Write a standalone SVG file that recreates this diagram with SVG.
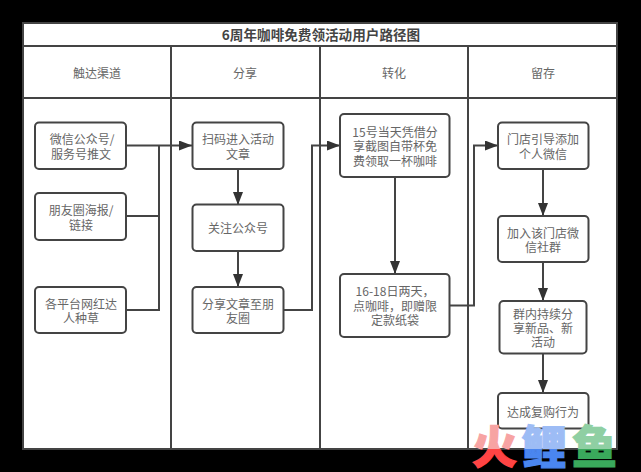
<svg xmlns="http://www.w3.org/2000/svg" width="641" height="472" viewBox="0 0 641 472">
<style>
text{font-family:"Noto Sans CJK SC","Liberation Sans",sans-serif;font-size:12px;fill:#666;text-anchor:middle}
.lane{fill:none;stroke:#444;stroke-width:2}
.box rect{fill:#fff;stroke:#444;stroke-width:2}
.c{fill:none;stroke:#444;stroke-width:2}
.t{font-size:13.600px;font-weight:700;fill:#444}
.w{font-size:45px;font-weight:900;stroke-width:1.200px}
</style>
<defs>
<marker id="a" markerUnits="userSpaceOnUse" markerWidth="14" markerHeight="12" refX="13" refY="5" orient="auto"><path d="M0 0L13 5L0 10Z" fill="#333"/></marker>
<linearGradient id="wr" gradientUnits="userSpaceOnUse" x1="0" y1="420" x2="0" y2="475"><stop offset=".527" stop-color="#f7a3a3"/><stop offset=".527" stop-color="#f44"/></linearGradient>
<linearGradient id="wb" gradientUnits="userSpaceOnUse" x1="0" y1="420" x2="0" y2="475"><stop offset=".527" stop-color="#9dbcf5"/><stop offset=".527" stop-color="#4a86f0"/></linearGradient>
<linearGradient id="wg" gradientUnits="userSpaceOnUse" x1="0" y1="420" x2="0" y2="475"><stop offset=".527" stop-color="#8fcfa3"/><stop offset=".527" stop-color="#3aa95c"/></linearGradient>
</defs>
<rect width="641" height="472" fill="#000"/>
<g id="swimlane">
<rect x="23" y="23" width="594" height="426" fill="#fff" stroke="#444" stroke-width="2"/>
<path class="lane" d="M23 46H617M23 98H617M171 46V449M320 46V449M468 46V449"/>
<text class="t" x="321" y="40">6周年咖啡免费领活动用户路径图</text>
<text x="97" y="78">触达渠道</text><text x="245" y="78">分享</text><text x="394" y="78">转化</text><text x="543" y="78">留存</text>
</g>
<g id="connectors">
<path class="c" d="M126 145.500H192" marker-end="url(#a)"/>
<path class="c" d="M126 216H159V145.500M126 310H159V216"/>
<path class="c" d="M238 169V205" marker-end="url(#a)"/>
<path class="c" d="M238 251V287" marker-end="url(#a)"/>
<path class="c" d="M283 310H312V145.500H340" marker-end="url(#a)"/>
<path class="c" d="M395 177V274" marker-end="url(#a)"/>
<path class="c" d="M449 305.500H474V145.500H498" marker-end="url(#a)"/>
<path class="c" d="M543 169V216" marker-end="url(#a)"/>
<path class="c" d="M543 262V301" marker-end="url(#a)"/>
<path class="c" d="M543 354V393" marker-end="url(#a)"/>
</g>
<g id="n1" class="box"><rect x="35" y="122.500" width="91" height="46.500" rx="4"/><text x="82" y="144">微信公众号/<tspan x="81" dy="14.500">服务号推文</tspan></text></g>
<g id="n2" class="box"><rect x="35" y="193" width="91" height="47" rx="4"/><text x="81" y="215">朋友圈海报/<tspan x="81" dy="14.500">链接</tspan></text></g>
<g id="n3" class="box"><rect x="35" y="287" width="91" height="46" rx="4"/><text x="81" y="308.500">各平台网红达<tspan x="81" dy="14.500">人种草</tspan></text></g>
<g id="n4" class="box"><rect x="192.500" y="122.500" width="91" height="46.500" rx="4"/><text x="238" y="144">扫码进入活动<tspan x="238" dy="14.500">文章</tspan></text></g>
<g id="n5" class="box"><rect x="192.500" y="204.500" width="91" height="46.500" rx="4"/><text x="238" y="233">关注公众号</text></g>
<g id="n6" class="box"><rect x="192.500" y="287" width="91" height="46" rx="4"/><text x="238" y="308.500">分享文章至朋<tspan x="238" dy="14.500">友圈</tspan></text></g>
<g id="n7" class="box"><rect x="340" y="114" width="109.500" height="63" rx="4"/><text x="395" y="136.500">15号当天凭借分<tspan x="395" dy="14.500">享截图自带杯免</tspan><tspan x="395" dy="14.500">费领取一杯咖啡</tspan></text></g>
<g id="n8" class="box"><rect x="340" y="274" width="109.500" height="63" rx="4"/><text x="395" y="296">16-18日两天，<tspan x="395" dy="14.700">点咖啡，即赠限</tspan><tspan x="395" dy="14.700">定款纸袋</tspan></text></g>
<g id="n9" class="box"><rect x="498" y="122.500" width="90.500" height="46.500" rx="4"/><text x="543" y="144">门店引导添加<tspan x="543" dy="14.500">个人微信</tspan></text></g>
<g id="n10" class="box"><rect x="498" y="216" width="90.500" height="46" rx="4"/><text x="543" y="237.500">加入该门店微<tspan x="543" dy="14.500">信社群</tspan></text></g>
<g id="n11" class="box"><rect x="499.500" y="301" width="87" height="52.500" rx="4"/><text x="543" y="318.500">群内持续分<tspan x="543" dy="14.300">享新品、新</tspan><tspan x="543" dy="14.300">活动</tspan></text></g>
<g id="n12" class="box"><rect x="498" y="393" width="90.500" height="35.500" rx="4"/><text x="543" y="416.500">达成复购行为</text></g>
<g id="watermark"><text class="w" x="494.500" y="464" style="fill:url(#wr);stroke:url(#wr)">火</text><text class="w" x="544" y="464" style="fill:url(#wb);stroke:url(#wb)">鲤</text><text class="w" x="594.500" y="464" style="fill:url(#wg);stroke:url(#wg)">鱼</text></g>
</svg>
